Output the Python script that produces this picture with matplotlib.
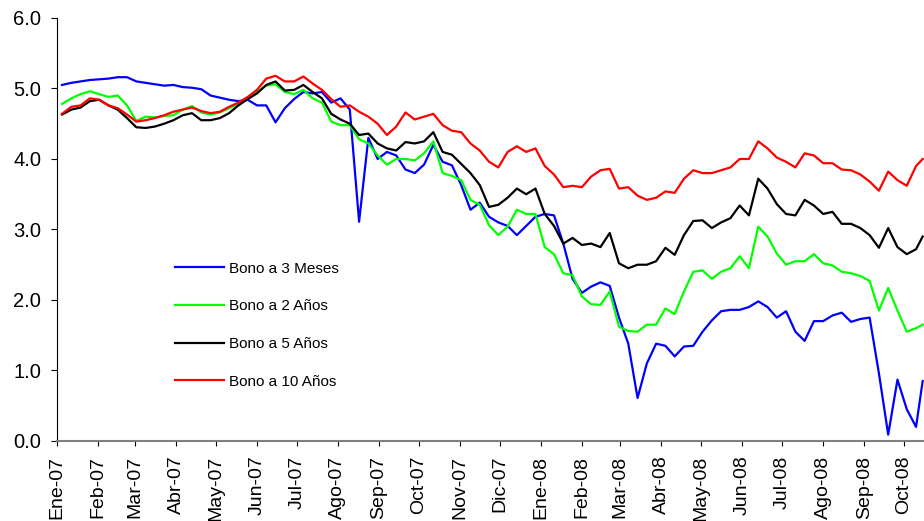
import pandas as pd
import numpy as np
import matplotlib
matplotlib.use("Agg")
import matplotlib.pyplot as plt

# weekly readings (Fridays) Jan-2007 .. Oct-2008, plus last obs on 15-Oct-2008
dates = list(pd.date_range("2007-01-05", "2008-10-10", freq="W-FRI")) + [pd.Timestamp("2008-10-15")]

bono_3m = [5.05, 5.08, 5.10, 5.12, 5.13, 5.14, 5.16, 5.16, 5.10, 5.08,
           5.06, 5.04, 5.05, 5.02, 5.01, 4.99, 4.90, 4.87, 4.84, 4.82,
           4.84, 4.76, 4.76, 4.52, 4.72, 4.85, 4.95, 4.93, 4.95, 4.80,
           4.86, 4.70, 3.11, 4.30, 4.00, 4.10, 4.05, 3.85, 3.80, 3.92,
           4.20, 3.96, 3.91, 3.63, 3.28, 3.38, 3.18, 3.10, 3.05, 2.92,
           3.05, 3.18, 3.22, 3.20, 2.80, 2.30, 2.10, 2.19, 2.25, 2.20,
           1.75, 1.38, 0.61, 1.10, 1.38, 1.35, 1.20, 1.34, 1.35, 1.55,
           1.71, 1.84, 1.86, 1.86, 1.90, 1.98, 1.90, 1.75, 1.84, 1.55,
           1.42, 1.70, 1.70, 1.78, 1.82, 1.69, 1.73, 1.75, 0.96, 0.09,
           0.87, 0.45, 0.20, 0.85]

bono_2a = [4.78, 4.86, 4.92, 4.96, 4.92, 4.88, 4.90, 4.76, 4.54, 4.60,
           4.59, 4.61, 4.62, 4.70, 4.75, 4.66, 4.63, 4.66, 4.72, 4.78,
           4.86, 4.95, 5.04, 5.06, 4.95, 4.92, 4.98, 4.86, 4.80, 4.53,
           4.48, 4.48, 4.28, 4.22, 4.05, 3.92, 4.00, 4.00, 3.98, 4.08,
           4.25, 3.80, 3.76, 3.70, 3.42, 3.35, 3.06, 2.92, 3.04, 3.28,
           3.22, 3.22, 2.75, 2.65, 2.38, 2.35, 2.05, 1.94, 1.93, 2.12,
           1.62, 1.56, 1.55, 1.65, 1.65, 1.88, 1.80, 2.12, 2.40, 2.42,
           2.30, 2.40, 2.45, 2.62, 2.45, 3.04, 2.90, 2.66, 2.50, 2.55,
           2.55, 2.65, 2.52, 2.49, 2.40, 2.38, 2.34, 2.27, 1.85, 2.17,
           1.85, 1.55, 1.60, 1.65]

bono_5a = [4.63, 4.70, 4.73, 4.82, 4.84, 4.76, 4.70, 4.58, 4.45, 4.44,
           4.46, 4.50, 4.55, 4.62, 4.65, 4.55, 4.55, 4.58, 4.65, 4.76,
           4.85, 4.93, 5.05, 5.10, 4.97, 4.98, 5.05, 4.95, 4.86, 4.64,
           4.56, 4.50, 4.34, 4.36, 4.22, 4.15, 4.12, 4.24, 4.22, 4.25,
           4.38, 4.10, 4.06, 3.93, 3.80, 3.63, 3.32, 3.35, 3.45, 3.58,
           3.50, 3.58, 3.22, 3.05, 2.80, 2.88, 2.78, 2.80, 2.75, 2.95,
           2.52, 2.45, 2.50, 2.50, 2.55, 2.74, 2.64, 2.92, 3.12, 3.13,
           3.02, 3.10, 3.16, 3.34, 3.20, 3.72, 3.58, 3.36, 3.22, 3.20,
           3.42, 3.34, 3.22, 3.25, 3.08, 3.08, 3.02, 2.92, 2.74, 3.02,
           2.75, 2.65, 2.72, 2.90]

bono_10a = [4.64, 4.74, 4.76, 4.86, 4.84, 4.76, 4.72, 4.63, 4.53, 4.55,
            4.58, 4.62, 4.67, 4.70, 4.73, 4.68, 4.65, 4.67, 4.74, 4.80,
            4.88, 4.98, 5.14, 5.18, 5.10, 5.10, 5.17, 5.07, 4.98, 4.85,
            4.74, 4.76, 4.67, 4.60, 4.50, 4.34, 4.46, 4.66, 4.56, 4.60,
            4.64, 4.48, 4.40, 4.38, 4.22, 4.12, 3.96, 3.88, 4.10, 4.18,
            4.10, 4.15, 3.90, 3.78, 3.60, 3.62, 3.60, 3.75, 3.84, 3.86,
            3.58, 3.60, 3.48, 3.42, 3.45, 3.54, 3.52, 3.72, 3.84, 3.80,
            3.80, 3.84, 3.88, 4.00, 4.00, 4.25, 4.15, 4.02, 3.96, 3.88,
            4.08, 4.05, 3.94, 3.94, 3.85, 3.84, 3.78, 3.68, 3.55, 3.82,
            3.70, 3.62, 3.90, 4.00]

series_names = ["Bono a 3 Meses", "Bono a 2 Años", "Bono a 5 Años", "Bono a 10 Años"]
series_colors = ["#0000FF", "#00FF00", "#000000", "#FF0000"]

month_ticks = pd.date_range("2007-01-01", "2008-10-01", freq="MS")
month_labels = ["Ene-07", "Feb-07", "Mar-07", "Abr-07", "May-07", "Jun-07",
                "Jul-07", "Ago-07", "Sep-07", "Oct-07", "Nov-07", "Dic-07",
                "Ene-08", "Feb-08", "Mar-08", "Abr-08", "May-08", "Jun-08",
                "Jul-08", "Ago-08", "Sep-08", "Oct-08"]

plt.rcParams["font.family"] = ["Liberation Sans", "DejaVu Sans"]

fig = plt.figure(figsize=(9.24, 5.21), dpi=100)
ax = fig.add_axes([0.0614, 0.1536, 0.9386, 0.8119])

for vals, name, col in zip([bono_3m, bono_2a, bono_5a, bono_10a], series_names, series_colors):
    ax.plot(dates, vals, color=col, lw=1.6, label=name)

ax.set_ylim(0, 6)
ax.set_yticks(np.arange(0, 6.1, 1.0))
ax.set_yticklabels([f"{v:.1f}" for v in np.arange(0, 6.1, 1.0)])
ax.set_xlim(pd.Timestamp("2007-01-01"), pd.Timestamp("2008-10-16"))
ax.set_xticks(month_ticks)
ax.set_xticklabels(month_labels, rotation=90)

ax.tick_params(axis="y", labelsize=14.5, length=4.3, pad=7, direction="out")
ax.tick_params(axis="x", labelsize=14, length=3.6, pad=7, direction="out", colors="black")

ax.spines["top"].set_visible(False)
ax.spines["right"].set_visible(False)
ax.spines["left"].set_color("black")
ax.spines["bottom"].set_color("#808080")
ax.spines["bottom"].set_linewidth(1.5)

ax.legend(loc="center left", bbox_to_anchor=(0.1364, 0.2735), frameon=False,
          fontsize=11, handlelength=3.2, handletextpad=0.35, labelspacing=1.55,
          borderpad=0, borderaxespad=0)

fig.savefig("out.png", dpi=100)
